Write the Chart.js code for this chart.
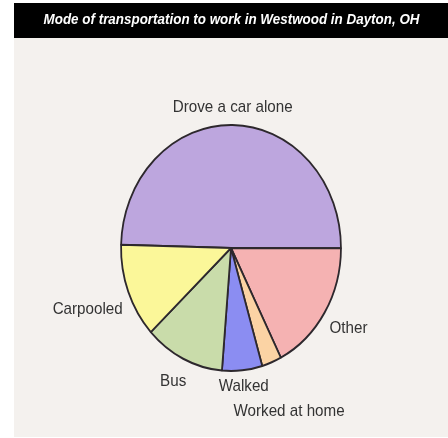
<!DOCTYPE html>
<html>
<head>
<meta charset="utf-8">
<script src="https://cdn.jsdelivr.net/npm/chart.js@4/dist/chart.umd.min.js"></script>
<style>
  html, body { margin: 0; padding: 0; background: #ffffff; overflow: hidden; }
  #page { position: relative; width: 448px; height: 438px; }
  #band { position: absolute; left: 14px; top: 3px; width: 434px; height: 34.5px; background: #000; }
  #panel { position: absolute; left: 14px; top: 37.5px; width: 434px; height: 399px; background: #f4f1ee; }
  #chart { position: absolute; left: 0; top: 0; display: block; }
</style>
</head>
<body>
<div id="page">
  <div id="band"></div>
  <div id="panel"></div>
  <canvas id="chart" width="448" height="438"></canvas>
</div>
<script>
// Commute mode shares (percent of workers)
const titleText = 'Mode of transportation to work in Westwood in Dayton, OH';
const categories = ['Drove a car alone', 'Other', 'Worked at home', 'Walked', 'Bus', 'Carpooled'];
const shares = [49.6, 17.5, 2.9, 5.9, 11.7, 12.4];
const sliceColors = ['#bda6de', '#f5b2b2', '#fbd3a4', '#8b8df2', '#c9dcaa', '#fbf799'];

// distance between the rim and each outside label
const labelGap = {
  'Drove a car alone': 9,
  'Other': 9,
  'Worked at home': 22,
  'Walked': 5,
  'Bus': 12,
  'Carpooled': 9
};

// the figure is drawn narrowed horizontally, so the pie is an upright oval
const SQUEEZE = 0.894;
const LABEL_FONT = '17px "Liberation Sans", Arial, sans-serif';
const TITLE_FONT = 'italic bold 15px "Liberation Sans", Arial, sans-serif';

const squeeze = {
  id: 'squeeze',
  beforeDatasetsDraw(chart) {
    chart.ctx.save();
    chart.ctx.scale(SQUEEZE, 1);
  },
  afterDatasetsDraw(chart) {
    chart.ctx.restore();
  }
};

// title text on the black band and category names outside the pie
const texts = {
  id: 'texts',
  afterDraw(chart) {
    const { ctx } = chart;
    const meta = chart.getDatasetMeta(0);
    ctx.save();
    ctx.scale(SQUEEZE, 1);
    ctx.textAlign = 'center';
    ctx.textBaseline = 'middle';

    ctx.font = TITLE_FONT;
    ctx.fillStyle = '#ffffff';
    ctx.fillText(titleText, 259, 19.5);

    ctx.font = LABEL_FONT;
    ctx.fillStyle = '#333333';
    meta.data.forEach((arc, i) => {
      const name = chart.data.labels[i];
      const mid = (arc.startAngle + arc.endAngle) / 2;
      const c = Math.cos(mid), s = Math.sin(mid);
      const w = ctx.measureText(name).width;
      const h = 16;
      const d = arc.outerRadius + labelGap[name] + (w / 2) * Math.abs(c) + (h / 2) * Math.abs(s);
      ctx.fillText(name, arc.x + d * c, arc.y + d * s);
    });
    ctx.restore();
  }
};

new Chart(document.getElementById('chart'), {
  type: 'pie',
  data: {
    labels: categories,
    datasets: [{
      data: shares,
      backgroundColor: sliceColors,
      borderColor: '#2d282d',
      borderWidth: 2,
      hoverOffset: 0
    }]
  },
  options: {
    responsive: false,
    animation: false,
    events: [],
    rotation: -88.5,
    radius: 123,
    layout: { padding: { left: 133.4, right: 64.6, top: 123, bottom: 65 } },
    plugins: {
      legend: { display: false },
      title: { display: false },
      tooltip: { enabled: false }
    }
  },
  plugins: [squeeze, texts]
});
</script>
</body>
</html>
